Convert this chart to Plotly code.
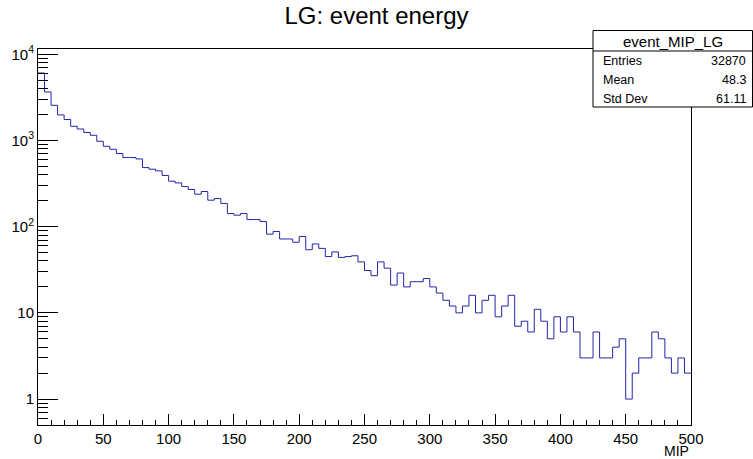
import plotly.graph_objects as go

# ---------------- data ----------------
bin_width = 5
bin_low = list(range(0, 500, bin_width))
counts = [
    6070, 3660, 2560, 1980, 1750, 1460, 1360, 1240, 1150, 980,
    857, 792, 706, 634, 634, 611, 485, 464, 444, 393,
    337, 322, 292, 270, 238, 256, 203, 212, 186, 142,
    136, 142, 121, 121, 115, 82, 88, 72, 72, 66,
    77, 54, 63, 56, 45, 51, 44, 45, 46, 39,
    31, 27, 39, 33, 21, 29, 20, 23, 23, 25,
    20, 17, 14, 12, 10, 12, 16, 10, 14, 16,
    9, 12, 16, 7, 8, 6, 11, 8, 5, 9,
    6, 9, 6, 3, 3, 6, 3, 3, 4, 5,
    1, 2, 3, 3, 6, 5, 3, 2, 3, 2,
]
title_text = "LG: event energy"
x_title = "MIP"
stats_name = "event_MIP_LG"
stats_labels = ["Entries", "Mean", "Std Dev"]
stats_values = ["32870", "48.3", "61.11"]
x_tick_vals = [0, 50, 100, 150, 200, 250, 300, 350, 400, 450, 500]
y_major_vals = [1, 10, 100, 1000, 10000]
y_major_text = ["1", "10", "10<sup>2</sup>", "10<sup>3</sup>", "10<sup>4</sup>"]
y_minor_vals = [m * 10 ** k for k in range(-1, 5) for m in range(2, 10)]
x_range = [0, 500]
y_range_log = [-0.301, 4.0615]

# ---------------- layout constants ----------------
W, H = 753, 459
L, R, T, B = 38, 62, 49, 34
PW, PH = W - L - R, H - T - B
FONT = "Liberation Sans, Arial, Helvetica, sans-serif"
LINE_COLOR = "#2424a8"


def px_x(px):
    return (px - L) / PW


def px_y(py):
    return (H - B - py) / PH


x_steps = bin_low + [bin_low[-1] + bin_width]
y_steps = counts + [counts[-1]]

fig = go.Figure()
fig.add_trace(go.Scatter(
    x=x_steps, y=y_steps, mode="lines", line_shape="hv",
    line=dict(color=LINE_COLOR, width=1), showlegend=False, hoverinfo="skip",
))
# invisible trace to activate minor-tick overlay axis
fig.add_trace(go.Scatter(x=[None], y=[None], yaxis="y2", showlegend=False))

fig.update_layout(
    width=W, height=H,
    margin=dict(l=L, r=R, t=T, b=B, pad=0),
    paper_bgcolor="white", plot_bgcolor="white",
    font=dict(family=FONT, color="black", size=15),
    title=dict(text=title_text, x=0.5, xanchor="center", y=1 - 16 / H,
               yanchor="middle", font=dict(size=24, family=FONT)),
    xaxis=dict(
        range=x_range, showgrid=False, zeroline=False,
        showline=True, linecolor="black", linewidth=1, mirror=True,
        ticks="inside", ticklen=11, tickcolor="black", tickwidth=1,
        tickvals=x_tick_vals, tickfont=dict(size=15),
        minor=dict(dtick=10, ticks="inside", ticklen=5.5, tickcolor="black", showgrid=False),
    ),
    yaxis=dict(
        type="log", range=y_range_log, showgrid=False, zeroline=False,
        showline=True, linecolor="black", linewidth=1, mirror=True,
        ticks="inside", ticklen=20, tickcolor="black", tickwidth=1,
        tickvals=y_major_vals, ticktext=y_major_text, tickfont=dict(size=15),
    ),
    yaxis2=dict(
        type="log", range=y_range_log, overlaying="y", side="left",
        showgrid=False, zeroline=False, showline=False,
        ticks="inside", ticklen=10, tickcolor="black", tickwidth=1,
        tickvals=y_minor_vals, showticklabels=False,
    ),
)

# x-axis title (right aligned, ROOT style)
fig.add_annotation(text=x_title, xref="paper", yref="paper", x=1.0, y=px_y(451.5),
                   xanchor="right", yanchor="middle", showarrow=False,
                   font=dict(size=14, family=FONT))

# stats box
bx0, bx1, by0, by1, bsep = 593, 752.5, 30.5, 107, 51
fig.add_shape(type="rect", xref="paper", yref="paper",
              x0=px_x(bx0), x1=px_x(bx1), y0=px_y(by1), y1=px_y(by0),
              line=dict(color="black", width=1), fillcolor="white", layer="above")
fig.add_shape(type="line", xref="paper", yref="paper",
              x0=px_x(bx0), x1=px_x(bx1), y0=px_y(bsep), y1=px_y(bsep),
              line=dict(color="black", width=1), layer="above")
fig.add_annotation(text=stats_name, xref="paper", yref="paper",
                   x=px_x((bx0 + bx1) / 2), y=px_y(41), xanchor="center", yanchor="middle",
                   showarrow=False, font=dict(size=15, family=FONT))
row_y = [61, 80, 98.5]
for lab, val, ry in zip(stats_labels, stats_values, row_y):
    fig.add_annotation(text=lab, xref="paper", yref="paper", x=px_x(601), y=px_y(ry),
                       xanchor="left", yanchor="middle", showarrow=False,
                       font=dict(size=12.5, family=FONT))
    fig.add_annotation(text=val, xref="paper", yref="paper", x=px_x(748), y=px_y(ry),
                       xanchor="right", yanchor="middle", showarrow=False,
                       font=dict(size=12.5, family=FONT))

fig.write_html("out.html", config={"displayModeBar": False},
               post_script="document.body.style.margin='0';document.body.style.overflow='hidden';")
